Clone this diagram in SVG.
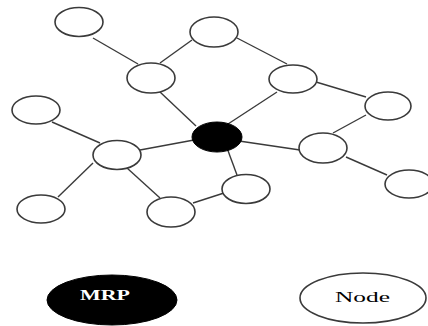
<svg xmlns="http://www.w3.org/2000/svg" width="428" height="326" viewBox="0 0 428 326">
<style>
.n{fill:#fff;stroke:#3a3a3a;stroke-width:1.6}
.m{fill:#000;stroke:#000;stroke-width:1}
.e{stroke:#3a3a3a;stroke-width:1.4;fill:none}
.t{font-family:"Liberation Serif","Times New Roman",serif;font-size:15px}
</style>
<rect width="428" height="326" fill="#fff"/>
<g id="edges">
<line class="e" x1="93" y1="38" x2="138" y2="64"/>
<line class="e" x1="160" y1="63" x2="192" y2="40"/>
<line class="e" x1="237" y1="38" x2="287" y2="64"/>
<line class="e" x1="316" y1="82" x2="366" y2="97"/>
<line class="e" x1="277" y1="92" x2="228" y2="124"/>
<line class="e" x1="160" y1="92" x2="196" y2="126"/>
<line class="e" x1="52" y1="122" x2="100" y2="143"/>
<line class="e" x1="140" y1="150" x2="194" y2="140"/>
<line class="e" x1="239" y1="141" x2="300" y2="150"/>
<line class="e" x1="333" y1="133" x2="366" y2="115"/>
<line class="e" x1="346" y1="157" x2="387" y2="175"/>
<line class="e" x1="227" y1="148" x2="237" y2="175"/>
<line class="e" x1="193" y1="203" x2="224" y2="193"/>
<line class="e" x1="127" y1="168" x2="160" y2="198"/>
<line class="e" x1="93" y1="163" x2="58" y2="197"/>
</g>
<g id="n1"><ellipse class="n" cx="79" cy="22" rx="24" ry="14.5"/></g>
<g id="n2"><ellipse class="n" cx="151" cy="78" rx="24" ry="15"/></g>
<g id="n3"><ellipse class="n" cx="214" cy="32" rx="24" ry="15"/></g>
<g id="n4"><ellipse class="n" cx="293" cy="79" rx="24" ry="14"/></g>
<g id="n5"><ellipse class="n" cx="388" cy="106" rx="23" ry="14"/></g>
<g id="n6"><ellipse class="n" cx="36" cy="110" rx="24" ry="14"/></g>
<g id="n7"><ellipse class="n" cx="117" cy="155" rx="24" ry="14.5"/></g>
<g id="mrp"><ellipse class="m" cx="217" cy="137" rx="25" ry="15"/></g>
<g id="n9"><ellipse class="n" cx="323" cy="148" rx="24" ry="15"/></g>
<g id="n10"><ellipse class="n" cx="409" cy="184" rx="24" ry="14"/></g>
<g id="n11"><ellipse class="n" cx="246" cy="189" rx="24" ry="14.5"/></g>
<g id="n12"><ellipse class="n" cx="171" cy="212" rx="24" ry="15"/></g>
<g id="n13"><ellipse class="n" cx="41" cy="209" rx="24" ry="14"/></g>
<g id="legend-mrp">
<ellipse class="m" cx="112" cy="300" rx="65" ry="25"/>
<text class="t" x="80" y="300" fill="#fff" font-weight="bold" textLength="50" lengthAdjust="spacingAndGlyphs">MRP</text>
</g>
<g id="legend-node">
<ellipse class="n" cx="363" cy="298" rx="63" ry="25"/>
<text class="t" x="335" y="302" fill="#000" textLength="55" lengthAdjust="spacingAndGlyphs">Node</text>
</g>
</svg>
